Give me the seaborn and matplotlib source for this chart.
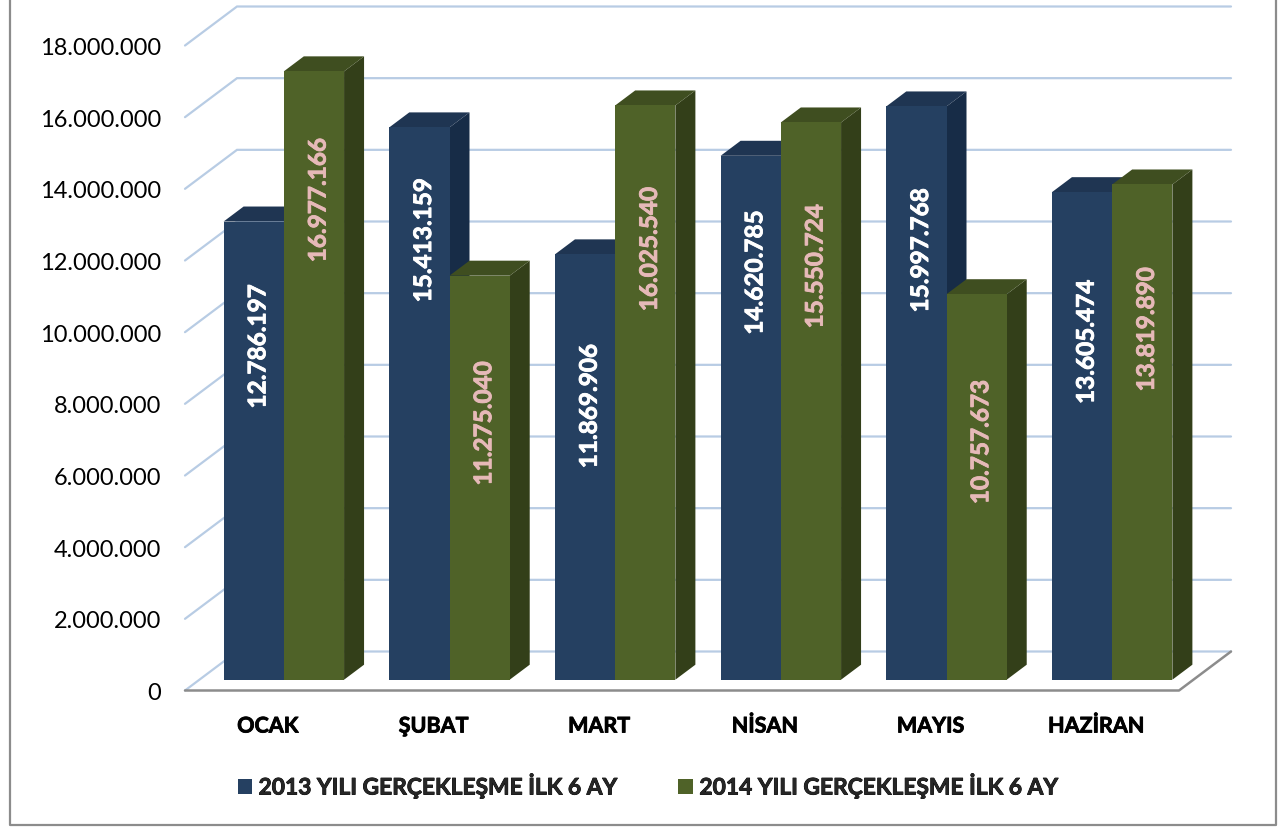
import matplotlib
matplotlib.use("Agg")
import matplotlib.pyplot as plt
import matplotlib.patheffects as pe
import pandas as pd
import seaborn as sns
from matplotlib.lines import Line2D
from matplotlib.patches import Polygon

months = ["OCAK", "ŞUBAT", "MART", "NİSAN", "MAYIS", "HAZİRAN"]
values_2013 = [12786197, 15413159, 11869906, 14620785, 15997768, 13605474]
values_2014 = [16977166, 11275040, 16025540, 15550724, 10757673, 13819890]
series_names = ["2013 YILI GERÇEKLEŞME İLK 6 AY", "2014 YILI GERÇEKLEŞME İLK 6 AY"]
y_ticks = list(range(0, 18000001, 2000000))

# distance (px) from bar top down to the centre of its rotated label
label_drop_2013 = [125, 113, 152, 117, 144, 150]
label_drop_2014 = [129, 148, 144, 144, 148, 145]

W, H = 1282, 828
sns.set_theme(style="white")
plt.rcParams["font.family"] = ["Lato", "DejaVu Sans"]

BLUE, BLUE_TOP, BLUE_SIDE = "#254061", "#1f3552", "#172c47"
GREEN, GREEN_TOP, GREEN_SIDE = "#4f6228", "#3f4e20", "#333f19"
GRID = "#b8cce4"
GRAY = "#8c8c8c"


def axes_px(left, top, right, bottom):
    return [left / W, 1 - bottom / H, (right - left) / W, (bottom - top) / H]


def embolden(text, color, width=0.6):
    text.set_path_effects([pe.withStroke(linewidth=width, foreground=color)])


fmt = lambda v: f"{v:,}".replace(",", ".")
YMAX = 18000000
px_y = YMAX / 645
px_x = 6 / 994

df = pd.DataFrame({
    "ay": months * 2,
    "deger": values_2013 + values_2014,
    "seri": [series_names[0]] * 6 + [series_names[1]] * 6,
})

fig = plt.figure(figsize=(W / 100, H / 100), dpi=100, facecolor="white")

# Front plane: value labels, month labels, walls and floor
front = fig.add_axes(axes_px(185, 46.5, 1179, 691.5))
front.set_xlim(-0.5, 5.5)
front.set_ylim(0, YMAX)
front.patch.set_visible(False)
sns.despine(ax=front, left=True, bottom=True, top=True, right=True)
front.set_yticks(y_ticks, [fmt(v) for v in y_ticks], fontsize=17, color="black")
front.set_xticks(range(6), months, fontsize=15.5, fontweight="bold", color="black")
front.tick_params(axis="both", length=0)
front.tick_params(axis="y", pad=17)
front.tick_params(axis="x", pad=18)
front.grid(False)
for t in front.get_xticklabels():
    embolden(t, "black")
wall_dx, wall_dy = 52 * px_x, 39 * px_y
for v in y_ticks:
    front.plot([-0.5, -0.5 + wall_dx, 5.5 + wall_dx], [v, v + wall_dy, v + wall_dy],
               color=GRID, lw=1.6, clip_on=False, zorder=1, solid_joinstyle="miter")
front.plot([-0.5, 5.5, 5.5 + wall_dx], [0, 0, wall_dy], color=GRAY, lw=1.8,
           clip_on=False, zorder=2)

# Bars, set slightly back from the front plane
ax = fig.add_axes(axes_px(201, 35.7, 1195, 680.7))
ax.patch.set_visible(False)
sns.barplot(data=df, x="ay", y="deger", hue="seri", order=months, hue_order=series_names,
            palette=[BLUE, GREEN], width=0.727, gap=0, saturation=1, linewidth=0, ax=ax)
ax.set_xlim(-0.5, 5.5)
ax.set_ylim(0, YMAX)
ax.axis("off")

dx, dy = 20 * px_x, 15 * px_y
styles = [(BLUE_TOP, BLUE_SIDE, "white", label_drop_2013, 2),
          (GREEN_TOP, GREEN_SIDE, "#e6b9b8", label_drop_2014, 4)]
for container, (top_c, side_c, txt_c, drops, z) in zip(ax.containers, styles):
    for patch, val, drop in zip(container.patches, container.datavalues, drops):
        x0, x1 = patch.get_x(), patch.get_x() + patch.get_width()
        h = patch.get_height()
        patch.set_zorder(z + 1)
        ax.add_patch(Polygon([(x1, 0), (x1 + dx, dy), (x1 + dx, h + dy), (x1, h)],
                             closed=True, fc=side_c, ec="none", zorder=z, clip_on=False))
        ax.add_patch(Polygon([(x0, h), (x0 + dx, h + dy), (x1 + dx, h + dy), (x1, h)],
                             closed=True, fc=top_c, ec="none", zorder=z, clip_on=False))
        lab = ax.annotate(fmt(int(val)), xy=((x0 + x1) / 2, h),
                          xytext=(3, -drop * 0.72), textcoords="offset points",
                          rotation=90, ha="center", va="center", color=txt_c,
                          fontsize=17.5, fontweight="bold", zorder=10,
                          annotation_clip=False)
        embolden(lab, txt_c)

handles, labels = ax.get_legend_handles_labels()
if ax.get_legend() is not None:
    ax.get_legend().remove()
leg = fig.legend(handles, labels, loc="center", bbox_to_anchor=(648 / W, 1 - 787 / H),
                 ncol=2, frameon=False, handlelength=0.62, handleheight=0.62,
                 handletextpad=0.3, columnspacing=2.68, borderpad=0,
                 prop={"size": 16.4, "weight": "bold"})
for t in leg.get_texts():
    embolden(t, "black")

# Outer frame, open at the top
fig.add_artist(Line2D([10 / W, 10 / W, 1276 / W, 1276 / W],
                      [1, 1 - 826 / H, 1 - 826 / H, 1],
                      color=GRAY, lw=1.6, transform=fig.transFigure))

fig.savefig("out.png", dpi=100)
